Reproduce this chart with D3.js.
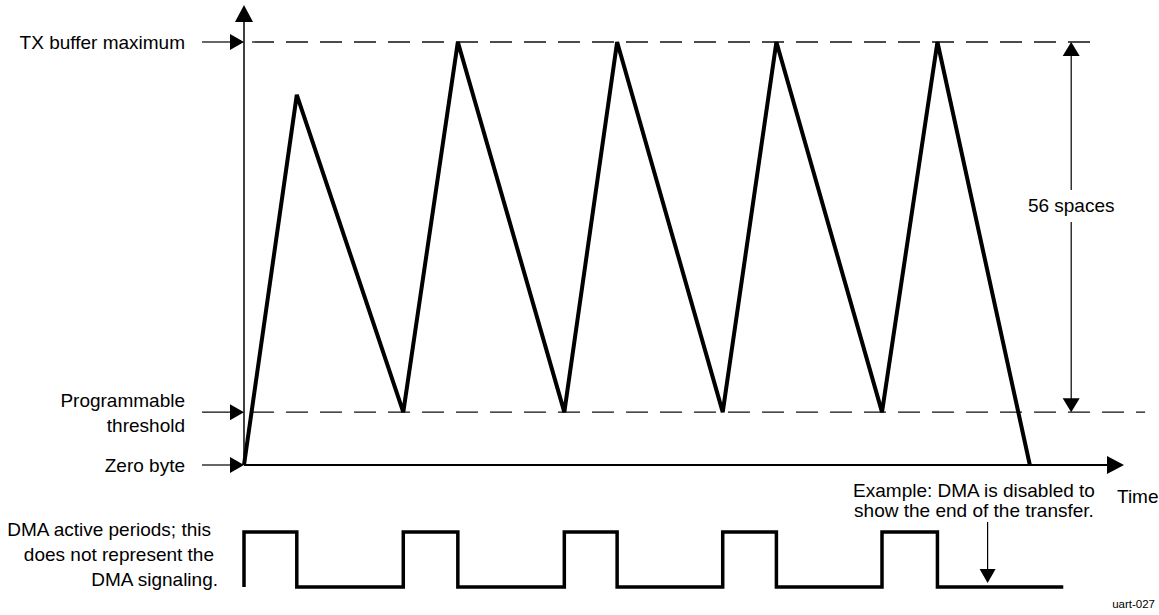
<!DOCTYPE html>
<html><head><meta charset="utf-8">
<script src="https://cdn.jsdelivr.net/npm/d3@7"></script>
<style>body{margin:0;background:#fff}svg{display:block;font-family:"Liberation Sans",Arial,sans-serif}</style>
</head><body><svg id="c" width="1159" height="615"></svg>
<script>
// ---- data (time in arbitrary units, level in bytes) ----
const levelMax = 64;          // TX buffer maximum
const levelThreshold = 8;     // programmable threshold
const levelZero = 0;
const bufferTime  = [0, 6.0, 18.1, 24.3, 36.4, 42.4, 54.4, 60.5, 72.5, 78.8, 89.3];
const bufferLevel = [0, 56,  8,    64,   8,    64,   8,    64,   8,    64,   0];
const dmaStart = [0, 18.1, 36.4, 54.4, 72.5];
const dmaEnd   = [6.0, 24.3, 42.4, 60.5, 78.8];
const dmaStop = 93.1;
const levelLabels = [
  {level: levelMax, lines: ["TX buffer maximum"]},
  {level: levelThreshold, lines: ["Programmable", "threshold"]},
  {level: levelZero, lines: ["Zero byte"]}
];
const spacesLabel = "56 spaces";
const dmaLabel = ["DMA active periods; this", "does not represent the", "DMA signaling."];
const dmaLabelRight = [211, 214, 218];
const exampleLabel = ["Example: DMA is disabled to", "show the end of the transfer."];
const exampleTime = 84.5;
const spacesTime = 94.0;
const maxLineEnd = 96.9, thrLineEnd = 102.4, timeAxisEnd = 100;

const svg = d3.select("#c");
const x = d3.scaleLinear().domain([0, 100]).range([244, 1124]);
const y = d3.scaleLinear().domain([0, 64]).range([465, 42]);
const dmaY = d3.scaleLinear().domain([0, 1]).range([587, 532]);
const FS = 19;

function tri(cx, cy, dir, w, h) { // tip at (cx,cy)
  let p;
  if (dir === "right") p = [[cx, cy], [cx - h, cy - w/2], [cx - h, cy + w/2]];
  if (dir === "up") p = [[cx, cy], [cx - w/2, cy + h], [cx + w/2, cy + h]];
  if (dir === "down") p = [[cx, cy], [cx - w/2, cy - h], [cx + w/2, cy - h]];
  svg.append("path").attr("d", d3.line()(p) + "Z").attr("fill", "#000");
}

// dashed reference lines
svg.append("line").attr("x1", x(0)).attr("x2", x(maxLineEnd)).attr("y1", y(levelMax)).attr("y2", y(levelMax))
  .attr("stroke", "#111").attr("stroke-width", 1.3).attr("stroke-dasharray", "22,12").attr("stroke-dashoffset", -8);
svg.append("line").attr("x1", x(0)).attr("x2", x(thrLineEnd)).attr("y1", y(levelThreshold)).attr("y2", y(levelThreshold))
  .attr("stroke", "#111").attr("stroke-width", 1.3).attr("stroke-dasharray", "22,12").attr("stroke-dashoffset", -8);

// y axis
svg.append("line").attr("x1", x(0)).attr("x2", x(0)).attr("y1", y(levelZero)).attr("y2", 20)
  .attr("stroke", "#000").attr("stroke-width", 1.5);
tri(x(0), 5, "up", 18, 17);

// time axis
svg.append("line").attr("x1", x(0)).attr("x2", x(timeAxisEnd) - 14).attr("y1", y(0)).attr("y2", y(0))
  .attr("stroke", "#000").attr("stroke-width", 2.2);
tri(x(timeAxisEnd), y(0), "right", 18, 17);
svg.append("text").attr("x", 1117).attr("y", 503).attr("font-size", FS).text("Time");

// level labels with pointer arrows
levelLabels.forEach(d => {
  const yy = y(d.level);
  svg.append("line").attr("x1", 202).attr("x2", x(0) - 10).attr("y1", yy).attr("y2", yy).attr("stroke", "#000").attr("stroke-width", 1.2);
  tri(x(0), yy, "right", 16, 14);
  const n = d.lines.length;
  d.lines.forEach((t, i) => {
    svg.append("text").attr("x", 185).attr("y", yy + 7 + (i - (n - 1) / 2) * 25)
      .attr("text-anchor", "end").attr("font-size", FS).text(t);
  });
});

// buffer waveform
const pts = bufferTime.map((t, i) => [x(t), y(bufferLevel[i])]);
svg.append("path").attr("d", d3.line()(pts)).attr("fill", "none").attr("stroke", "#000")
  .attr("stroke-width", 4).attr("stroke-linejoin", "miter");

// 56 spaces dimension
svg.append("line").attr("x1", x(spacesTime)).attr("x2", x(spacesTime)).attr("y1", y(levelMax) + 12).attr("y2", 190)
  .attr("stroke", "#000").attr("stroke-width", 1.2);
svg.append("line").attr("x1", x(spacesTime)).attr("x2", x(spacesTime)).attr("y1", 222).attr("y2", y(levelThreshold) - 12)
  .attr("stroke", "#000").attr("stroke-width", 1.2);
tri(x(spacesTime), y(levelMax), "up", 17, 14);
tri(x(spacesTime), y(levelThreshold), "down", 17, 14);
svg.append("text").attr("x", x(spacesTime)).attr("y", 212).attr("text-anchor", "middle").attr("font-size", FS).text(spacesLabel);

// DMA square wave
const dp = [[x(0), dmaY(0)]];
dmaStart.forEach((s, i) => {
  dp.push([x(s), dmaY(0)], [x(s), dmaY(1)], [x(dmaEnd[i]), dmaY(1)], [x(dmaEnd[i]), dmaY(0)]);
});
dp.push([x(dmaStop), dmaY(0)]);
svg.append("path").attr("d", d3.line()(dp)).attr("fill", "none").attr("stroke", "#000")
  .attr("stroke-width", 3.5).attr("stroke-linejoin", "miter");

dmaLabel.forEach((t, i) => {
  svg.append("text").attr("x", dmaLabelRight[i]).attr("y", 536 + i * 25).attr("text-anchor", "end").attr("font-size", FS).text(t);
});

// example annotation
exampleLabel.forEach((t, i) => {
  svg.append("text").attr("x", 974).attr("y", 497 + i * 20).attr("text-anchor", "middle").attr("font-size", FS).text(t);
});
svg.append("line").attr("x1", x(exampleTime)).attr("x2", x(exampleTime)).attr("y1", 522).attr("y2", 570)
  .attr("stroke", "#000").attr("stroke-width", 1.2);
tri(x(exampleTime), 583, "down", 16, 14);

svg.append("text").attr("x", 1155).attr("y", 608).attr("text-anchor", "end").attr("font-size", 11.5).text("uart-027");
</script></body></html>
